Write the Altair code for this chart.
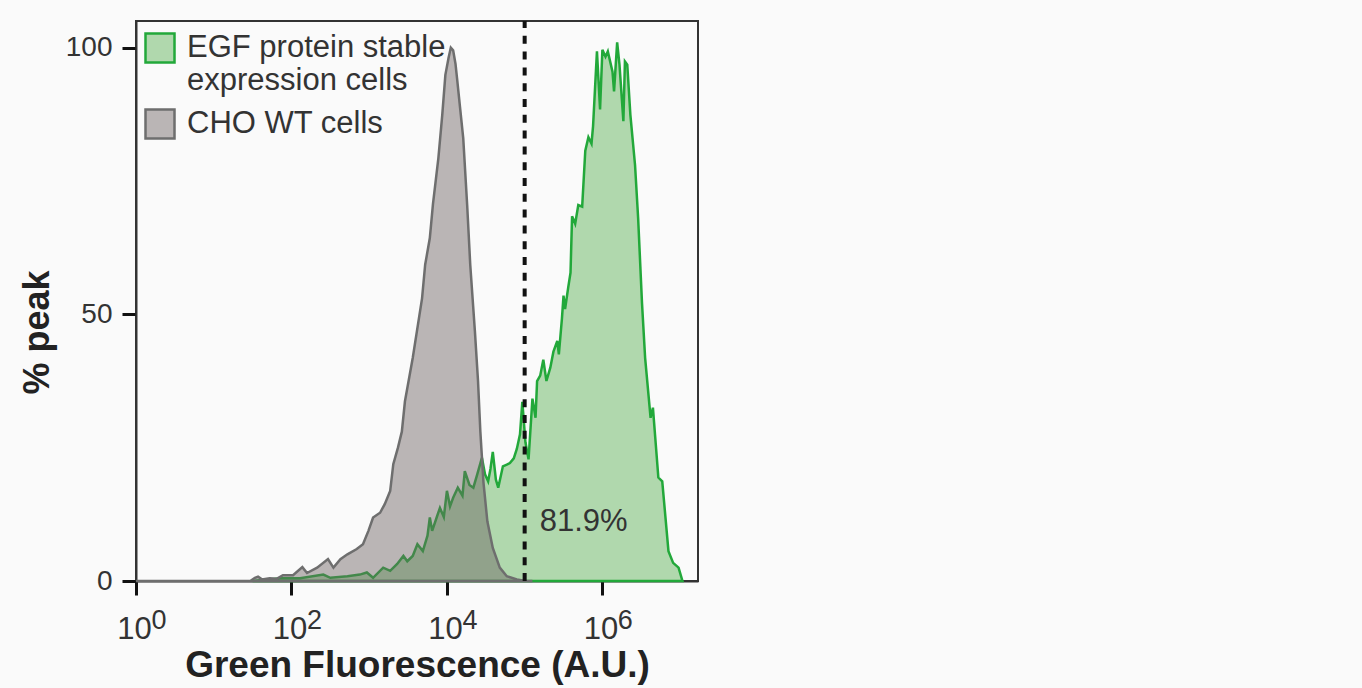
import altair as alt
import pandas as pd

FONT = "Liberation Sans"

series_names = ["EGF protein stable expression cells", "CHO WT cells"]
fill_colors = ["#b0d8ad", "rgba(108,98,98,0.45)"]
stroke_colors = ["#22a83a", "#6e6e6e"]

# CHO WT cells: log10(fluorescence) and % of peak
cho_log = [0.00, 1.47, 1.53, 1.57, 1.62, 1.72, 1.81, 1.89, 2.02, 2.14, 2.20, 2.33,
           2.47, 2.54, 2.63, 2.72, 2.84, 2.92, 2.99, 3.05, 3.14, 3.20, 3.27, 3.31,
           3.37, 3.42, 3.46, 3.56, 3.68, 3.72, 3.78, 3.82, 3.89, 3.94, 3.98, 4.02,
           4.05, 4.08, 4.11, 4.13, 4.17, 4.21, 4.26, 4.30, 4.36, 4.40, 4.43, 4.47,
           4.52, 4.59, 4.68, 4.77, 4.90, 5.01, 5.10]
cho_pct = [0.0, 0.0, 0.6, 0.8, 0.3, 0.5, 0.4, 1.1, 1.1, 2.6, 1.5, 2.5,
           4.1, 2.5, 4.1, 5.0, 6.0, 6.9, 9.4, 11.9, 12.8, 14.4, 16.9, 21.9,
           25.0, 28.0, 33.7, 41.8, 53.0, 59.3, 64.3, 70.6, 79.3, 87.4, 94.9, 98.0,
           100.0, 99.5, 97.0, 94.3, 88.6, 83.0, 70.6, 59.3, 46.8, 37.5, 28.0, 18.5,
           11.2, 6.2, 2.5, 0.9, 0.3, 0.0, 0.0]

# EGF protein stable expression cells
egf_log = [1.50, 1.72, 1.85, 2.11, 2.41, 2.50, 2.72, 2.88, 2.97, 3.05, 3.18, 3.27,
           3.36, 3.44, 3.49, 3.56, 3.62, 3.69, 3.75, 3.78, 3.81, 3.87, 3.91, 3.96,
           4.00, 4.04, 4.08, 4.14, 4.20, 4.23, 4.29, 4.34, 4.39, 4.45, 4.49, 4.53,
           4.56, 4.59, 4.63, 4.66, 4.72, 4.77, 4.81, 4.86, 4.90, 4.94, 4.97, 5.01,
           5.05, 5.10, 5.14, 5.16, 5.20, 5.24, 5.28, 5.33, 5.37, 5.42, 5.44, 5.48,
           5.50, 5.52, 5.56, 5.59, 5.61, 5.65, 5.69, 5.74, 5.78, 5.82, 5.86, 5.88,
           5.93, 5.97, 6.00, 6.04, 6.07, 6.13, 6.15, 6.19, 6.22, 6.27, 6.29, 6.32,
           6.36, 6.42, 6.46, 6.51, 6.55, 6.62, 6.65, 6.72, 6.77, 6.85, 6.91, 6.98,
           7.03]
egf_pct = [0.0, 0.3, 0.5, 0.5, 1.2, 0.6, 0.9, 1.2, 1.6, 0.6, 2.5, 1.9,
           3.2, 4.7, 3.7, 4.7, 6.9, 5.6, 8.5, 11.9, 9.4, 12.0, 13.7, 12.0,
           16.9, 14.0, 15.6, 17.5, 16.0, 20.6, 18.0, 17.5, 20.0, 23.1, 20.0, 18.7,
           21.0, 24.2, 19.0, 17.5, 21.5, 21.8, 22.1, 23.0, 24.8, 27.5, 33.6, 26.0,
           22.8, 34.2, 30.6, 37.5, 38.5, 41.5, 37.5, 40.0, 43.0, 45.0, 42.5, 49.3,
           53.5, 51.0, 55.0, 57.8, 68.4, 67.0, 70.5, 70.2, 80.7, 83.2, 82.0, 85.3,
           99.3, 88.4, 99.6, 98.3, 99.3, 95.5, 91.8, 101.0, 96.8, 86.2, 97.4, 96.8,
           87.4, 78.0, 68.0, 52.0, 41.8, 30.6, 32.5, 19.4, 18.7, 5.6, 3.4, 2.5,
           0.0]

x_ticks = [1, 100, 10000, 1000000]
x_exponents = ["0", "2", "4", "6"]
y_ticks = [0, 50, 100]
x_max = 10 ** 7.23
y_max = 105

gate_value = 100000
gate_label = "81.9%"
gate_label_pct = 9.4

df_egf = pd.DataFrame({"fluor": [10 ** e for e in egf_log], "pct": egf_pct,
                       "series": series_names[0]})
df_cho = pd.DataFrame({"fluor": [10 ** e for e in cho_log], "pct": cho_pct,
                       "series": series_names[1]})
df_gate = pd.DataFrame({"fluor": [gate_value], "pct": [gate_label_pct], "label": [gate_label]})
df_exp = pd.DataFrame({"fluor": x_ticks, "exp": x_exponents})

x_scale = alt.Scale(type="log", domain=[1, x_max], nice=False)
y_scale = alt.Scale(domain=[0, y_max], nice=False)

x_axis = alt.Axis(values=x_ticks, labelExpr="'10'", labelFontSize=31, labelFont=FONT,
                  labelColor="#333", labelPadding=19, labelFlush=False, labelOffset=-2,
                  tickSize=14, tickWidth=3, tickColor="#111", domainColor="#333",
                  domainWidth=2, grid=False, title="Green Fluorescence (A.U.)",
                  titleFontSize=37, titleFont=FONT, titleFontWeight="bold",
                  titleColor="#222", titleY=95, titleBaseline="alphabetic")
y_axis = alt.Axis(values=y_ticks, format="d", labelFontSize=28, labelFont=FONT,
                  labelColor="#333", labelPadding=10, tickSize=14, tickWidth=3,
                  tickColor="#111", domainColor="#333", domainWidth=2, grid=False,
                  title="% peak", titleFontSize=36, titleFont=FONT,
                  titleFontWeight="bold", titleColor="#222", titleX=-88, titleY=311,
                  titleAlign="center", titleBaseline="alphabetic")

legend = alt.Legend(title=None, orient="none", legendX=8, legendY=11,
                    symbolType="square", symbolSize=841, symbolStrokeWidth=2.5,
                    labelFontSize=31, labelFont=FONT, labelColor="#333",
                    labelOffset=11, labelLimit=0, padding=0, rowPadding=8,
                    labelExpr="datum.label == 'EGF protein stable expression cells' ? ['EGF protein stable', 'expression cells'] : datum.label")

fill_scale = alt.Scale(domain=series_names, range=fill_colors)
stroke_scale = alt.Scale(domain=series_names, range=stroke_colors)


def area_layer(df):
    return alt.Chart(df).mark_area(strokeWidth=2.5, interpolate="linear").encode(
        x=alt.X("fluor:Q", scale=x_scale, axis=x_axis),
        y=alt.Y("pct:Q", scale=y_scale, stack=None, axis=y_axis),
        fill=alt.Fill("series:N", scale=fill_scale, legend=legend),
        stroke=alt.Stroke("series:N", scale=stroke_scale, legend=legend),
    )


egf_area = area_layer(df_egf)
cho_area = area_layer(df_cho)

gate_rule = alt.Chart(df_gate).mark_rule(strokeDash=[8, 7.8], strokeWidth=4,
                                         color="#111").encode(
    x=alt.X("fluor:Q", scale=x_scale),
    y=alt.datum(0),
    y2=alt.datum(y_max),
)

gate_text = alt.Chart(df_gate).mark_text(align="left", baseline="alphabetic", dx=15,
                                         fontSize=31, font=FONT, color="#333").encode(
    x=alt.X("fluor:Q", scale=x_scale),
    y=alt.Y("pct:Q", scale=y_scale),
    text="label:N",
)

exp_text = alt.Chart(df_exp).mark_text(align="center", baseline="alphabetic", dx=23,
                                       fontSize=27, font=FONT, color="#333").encode(
    x=alt.X("fluor:Q", scale=x_scale),
    y=alt.value(608),
    text="exp:N",
)

chart = alt.layer(egf_area, cho_area, gate_rule, gate_text, exp_text).properties(
    width=562, height=560,
    autosize=alt.AutoSizeParams(type="none"),
    padding={"left": 136, "top": 21, "right": 664, "bottom": 107},
    background="#fafafa",
).configure_view(stroke="#333", strokeWidth=2)

chart.save("out.html", embed_options={"renderer": "svg", "actions": False})
